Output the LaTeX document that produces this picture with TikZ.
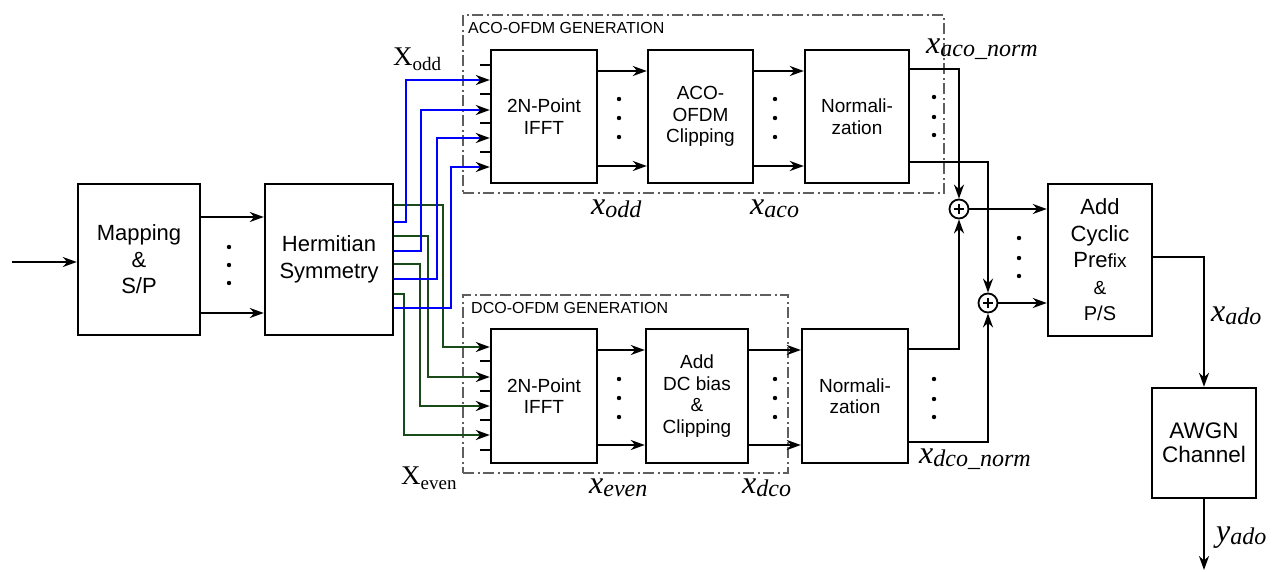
\documentclass[tikz,border=0pt]{standalone}
\usepackage{fontspec}
\setmainfont{Liberation Sans}
\newfontfamily\lserif{Liberation Serif}
\usetikzlibrary{arrows.meta}
\definecolor{wblue}{RGB}{0,0,255}
\definecolor{wgreen}{RGB}{25,75,25}
\definecolor{ddgray}{RGB}{95,95,95}
\newcommand\mlab[2]{{\lserif\itshape\fontsize{32}{32}\selectfont #1}\raisebox{-3pt}{\lserif\itshape\fontsize{24}{24}\selectfont #2}}
\newcommand\clab[2]{{\lserif\fontsize{27}{27}\selectfont #1}\raisebox{-5pt}{\lserif\fontsize{19}{19}\selectfont #2}}
\begin{document}
\begin{tikzpicture}[x=1pt,y=-1pt,
  blk/.style={draw, line width=2.4pt, inner sep=0pt, align=center},
  outerblk/.style={blk, font=\fontsize{22}{26.5}\selectfont},
  innerblk/.style={blk, font=\fontsize{19}{21.5}\selectfont},
  tip/.style={-{Stealth[length=14pt,width=10pt,inset=4.5pt,color=black]}},
  arr/.style={line width=2.1pt, tip},
  ln/.style={line width=2.1pt},
  wb/.style={line width=2.2pt, draw=wblue, tip},
  wg/.style={line width=2.2pt, draw=wgreen, tip},
  grp/.style={draw=ddgray, line width=1.6pt, dash pattern=on 11pt off 3.5pt on 2pt off 3.5pt, inner sep=0pt},
  grplab/.style={anchor=base west, inner sep=0pt, font=\fontsize{16}{16}\selectfont},
  lab/.style={anchor=base west, inner sep=0pt},
  adder/.style={circle, draw, line width=1.8pt, minimum size=19pt, inner sep=0pt,
    path picture={\draw[line width=1.3pt] ([xshift=-5pt]path picture bounding box.center) -- ([xshift=5pt]path picture bounding box.center);
                  \draw[line width=1.3pt] ([yshift=-5pt]path picture bounding box.center) -- ([yshift=5pt]path picture bounding box.center);}}
]
\useasboundingbox (0,0) rectangle (1285,571);

% group frames
\node[grp, minimum width=481pt, minimum height=178pt] (acobox) at (703.5,104) {};
\node[grp, minimum width=325pt, minimum height=178pt] (dcobox) at (625.5,384) {};
\node[grplab] (acolab) at (468,33) {ACO-OFDM GENERATION};
\node[grplab] (dcolab) at (471,313) {DCO-OFDM GENERATION};

% blocks
\node[outerblk, minimum width=122pt, minimum height=151pt] (map) at (139,259.5) {Mapping\\\&\\S/P};
\node[outerblk, minimum width=128pt, minimum height=151pt] (herm) at (329,259.5) {Hermitian\\Symmetry};
\node[innerblk, minimum width=106pt, minimum height=133pt] (ifftA) at (544,116.5) {2N-Point\\IFFT};
\node[innerblk, minimum width=105pt, minimum height=133pt] (clipA) at (700.5,116.5) {ACO-\\OFDM\\Clipping};
\node[innerblk, minimum width=104pt, minimum height=133pt] (normA) at (857,116.5) {Normali-\\zation};
\node[innerblk, minimum width=106pt, minimum height=134pt] (ifftD) at (544,396) {2N-Point\\IFFT};
\node[innerblk, minimum width=102pt, minimum height=134pt] (clipD) at (697,396) {Add\\DC bias\\\&\\Clipping};
\node[innerblk, minimum width=106pt, minimum height=134pt] (normD) at (855,396) {Normali-\\zation};
\node[outerblk, minimum width=104pt, minimum height=152pt] (acp) at (1100,260)
  {Add\\Cyclic\\Pre{\fontsize{19}{19}\selectfont fix}\\{\fontsize{19}{19}\selectfont\&}\\{\fontsize{20}{20}\selectfont P/S}};
\node[blk, font=\fontsize{22.5}{24}\selectfont, minimum width=104pt, minimum height=110pt] (awgn) at (1204,443) {AWGN\\Channel};

\node[adder] (s1) at (959,209) {};
\node[adder] (s2) at (988,303) {};

% input
\coordinate (inp) at (12,262);
\draw[arr] (inp) -- (map.west |- inp);
\draw[arr] (map.east |- 0,217) -- (herm.west |- 0,217);
\draw[arr] (map.east |- 0,313) -- (herm.west |- 0,313);

% wiring from Hermitian symmetry
\draw[wg] (herm.east |- 0,205) -| (443,347) -- (ifftD.west |- 0,347);
\draw[wb] (herm.east |- 0,222) -| (406,80) -- (ifftA.west |- 0,80);
\draw[wg] (herm.east |- 0,236) -| (428,377) -- (ifftD.west |- 0,377);
\draw[wb] (herm.east |- 0,251) -| (421,110) -- (ifftA.west |- 0,110);
\draw[wg] (herm.east |- 0,264) -| (420,406) -- (ifftD.west |- 0,406);
\draw[wb] (herm.east |- 0,279) -| (437,138) -- (ifftA.west |- 0,138);
\draw[wg] (herm.east |- 0,294) -| (404,435) -- (ifftD.west |- 0,435);
\draw[wb] (herm.east |- 0,308) -| (451,167) -- (ifftA.west |- 0,167);

% ticks
\foreach \y in {65,94,123,152} \draw[ln] (ifftA.west |- 0,\y) -- ++(-10,0);
\foreach \y in {361,391,420,450} \draw[ln] (ifftD.west |- 0,\y) -- ++(-10,0);

% ACO chain
\draw[arr] (ifftA.east |- 0,71) -- (clipA.west |- 0,71);
\draw[arr] (ifftA.east |- 0,166) -- (clipA.west |- 0,166);
\draw[arr] (clipA.east |- 0,71) -- (normA.west |- 0,71);
\draw[arr] (clipA.east |- 0,166) -- (normA.west |- 0,166);
% DCO chain
\draw[arr] (ifftD.east |- 0,350) -- (clipD.west |- 0,350);
\draw[arr] (ifftD.east |- 0,445) -- (clipD.west |- 0,445);
\draw[arr] (clipD.east |- 0,350) -- (normD.west |- 0,350);
\draw[arr] (clipD.east |- 0,445) -- (normD.west |- 0,445);

% adders
\draw[arr] (normA.east |- 0,69) -| (s1.north);
\draw[arr] (normD.east |- 0,349) -| (s1.south);
\draw[arr] (normA.east |- 0,162) -| (s2.north);
\draw[arr] (normD.east |- 0,442) -| (s2.south);
\draw[arr] (s1.east) -- (acp.west |- s1.east);
\draw[arr] (s2.east) -- (acp.west |- s2.east);

% output
\draw[arr] (acp.east |- 0,257) -| (awgn.north);
\coordinate (yend) at (1204,570);
\draw[arr] (awgn.south) -- (yend);

% dots
\foreach \x/\a/\b/\c in {229/247/265/283, 619/99/118/137, 775/99/118/137, 934/97/117/135,
  619/379/398/417, 775/379/398/417, 934/379/399/417, 1019/238/258/276}
  {\fill (\x,\a) circle (2.2pt); \fill (\x,\b) circle (2.2pt); \fill (\x,\c) circle (2.2pt);}

% labels
\node[lab] (lXodd) at (393,65) {\clab{X}{odd}};
\node[lab] (lXeven) at (401,484) {\clab{X}{even}};
\node[lab] (lxodd) at (591,214) {\mlab{x}{odd}};
\node[lab] (lxaco) at (750,214) {\mlab{x}{aco}};
\node[lab] (lxacon) at (926,53) {\mlab{x}{aco\_norm}};
\node[lab] (lxeven) at (589,493) {\mlab{x}{even}};
\node[lab] (lxdco) at (742,493) {\mlab{x}{dco}};
\node[lab] (lxdcon) at (919,463) {\mlab{x}{dco\_norm}};
\node[lab] (lxado) at (1211,321) {\mlab{x}{ado}};
\node[lab] (lyado) at (1216,541) {\mlab{y}{ado}};
\end{tikzpicture}
\end{document}
